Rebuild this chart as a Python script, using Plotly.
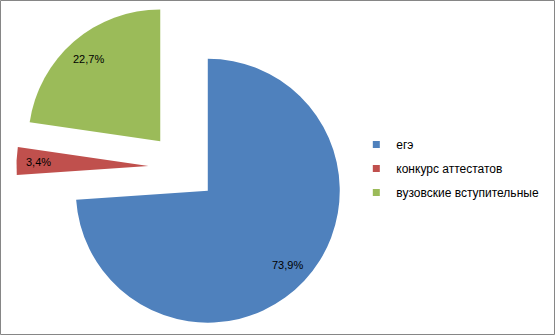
import math
import plotly.graph_objects as go

categories = ["егэ", "конкурс аттестатов", "вузовские вступительные"]
values = [73.9, 3.4, 22.7]
value_labels = ["73,9%", "3,4%", "22,7%"]
colors = ["#4F81BD", "#C0504D", "#9BBB59"]
pulls = [0.26, 0.26, 0.26]

W, H = 555, 335
dom_x = [0.0296, 0.6288]
dom_y = [0.0042, 0.997]
label_frac = 0.83  # label distance along slice mid-angle, as fraction of radius

fig = go.Figure()
fig.add_trace(go.Pie(
    labels=categories,
    values=values,
    textinfo="none",
    marker=dict(colors=colors, line=dict(width=0)),
    pull=pulls,
    sort=False,
    direction="clockwise",
    rotation=0,
    showlegend=False,
    hoverinfo="skip",
    domain=dict(x=dom_x, y=dom_y),
))

# Data labels placed along each slice's mid-angle (same geometry plotly uses)
availW = W * (dom_x[1] - dom_x[0])
availH = H * (dom_y[1] - dom_y[0])
r = min(availW, availH) / 2 / (1 + max(pulls))
cx = W * (dom_x[0] + dom_x[1]) / 2
cy = H * (1 - (dom_y[0] + dom_y[1]) / 2)
total = sum(values)
cum = 0.0
annotations = []
for v, lab, p in zip(values, value_labels, pulls):
    mid = (cum + v / 2) / total * 2 * math.pi
    cum += v
    d = (p + label_frac) * r
    px = cx + d * math.sin(mid)
    py = cy - d * math.cos(mid)
    annotations.append(dict(
        x=px / W, y=1 - py / H, xref="paper", yref="paper",
        text=lab, showarrow=False, xanchor="center", yanchor="middle",
        font=dict(family="Liberation Sans, Arial", size=11, color="#000000"),
    ))

# legend entries
for name, col in zip(categories, colors):
    fig.add_trace(go.Scatter(
        x=[None], y=[None], mode="markers", name=name,
        legendgroup=name,
        marker=dict(symbol="square", size=7, color=col),
        showlegend=True, hoverinfo="skip",
    ))

fig.update_layout(
    width=W, height=H,
    margin=dict(l=0, r=0, t=0, b=0),
    paper_bgcolor="white",
    plot_bgcolor="white",
    xaxis=dict(visible=False),
    yaxis=dict(visible=False),
    legend=dict(
        x=0.642, y=0.497, xanchor="left", yanchor="middle",
        font=dict(family="Liberation Sans, Arial", size=12, color="#000000"),
        tracegroupgap=5, itemwidth=30, bgcolor="rgba(0,0,0,0)",
    ),
    annotations=annotations,
    shapes=[dict(type="rect", xref="paper", yref="paper",
                 x0=0.5 / W, x1=1 - 0.5 / W, y0=0.5 / H, y1=1 - 0.5 / H,
                 line=dict(color="#868686", width=1))],
)

fig.write_html("out.html")
